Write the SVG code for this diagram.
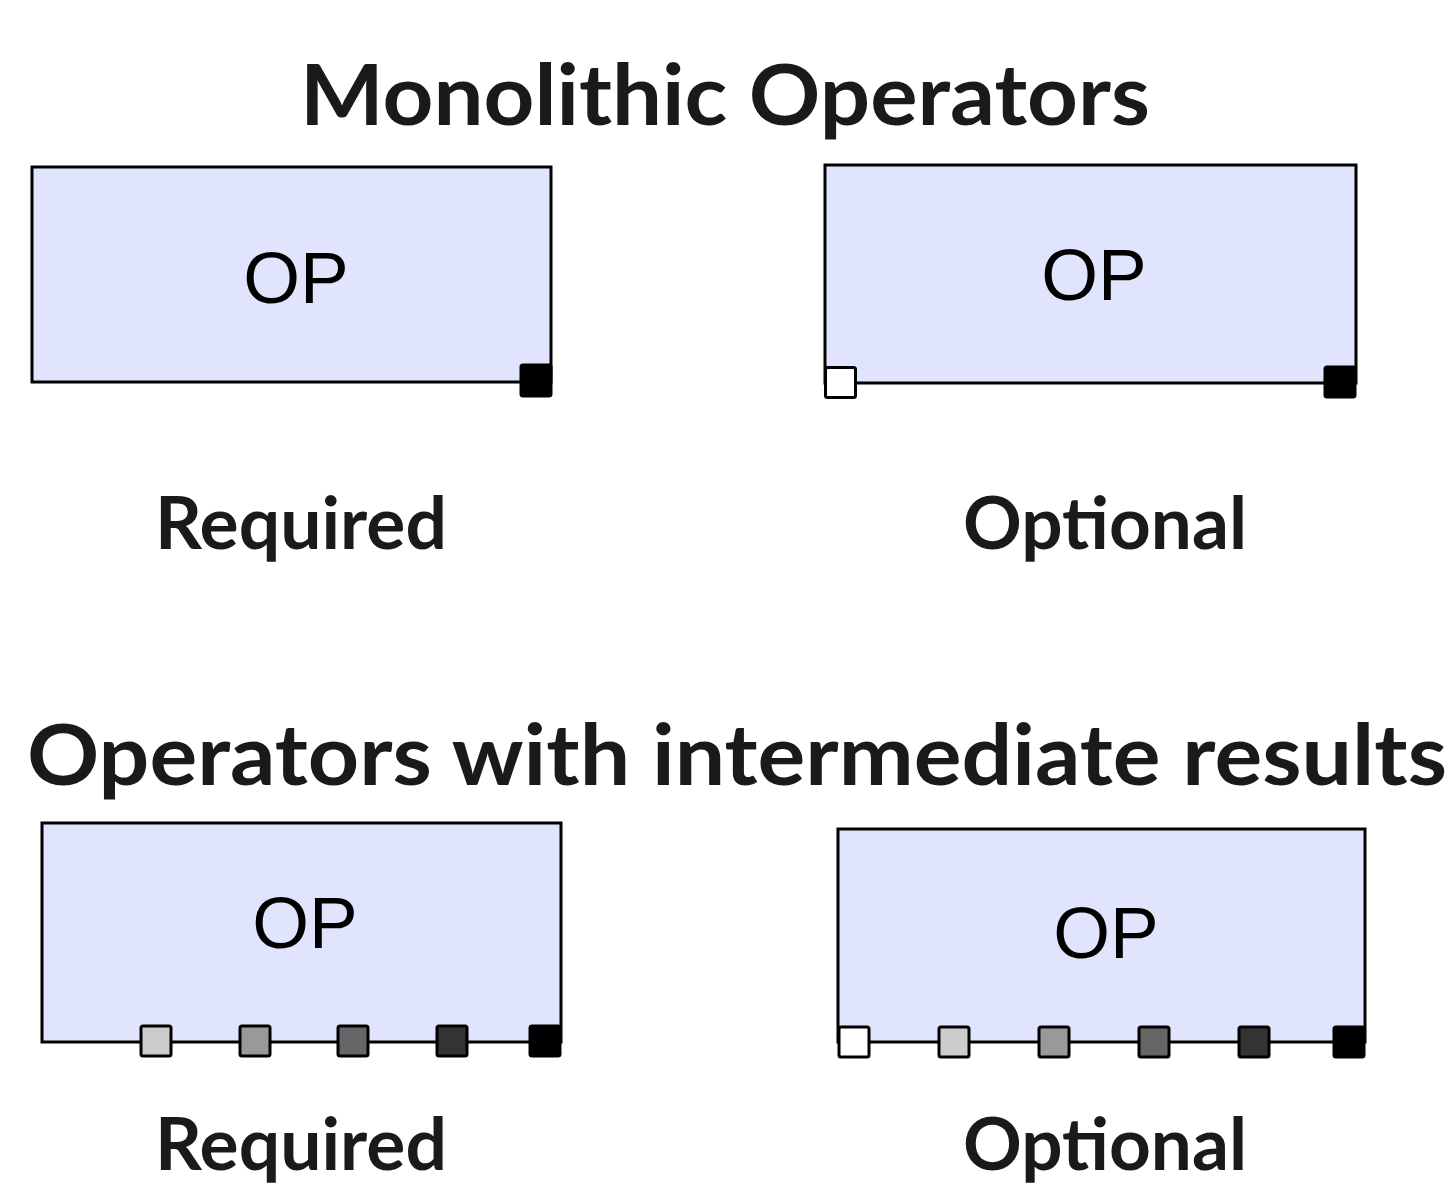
<svg xmlns="http://www.w3.org/2000/svg" width="1451" height="1185" viewBox="0 0 1451 1185">
<style>
.title{font-family:Lato,"Open Sans","Liberation Sans",sans-serif;font-weight:bold;fill:#1a1a1a}
.lbl{font-family:Lato,"Open Sans","Liberation Sans",sans-serif;font-weight:bold;fill:#1a1a1a;font-size:72px}
.op{font-family:"Liberation Sans",Arial,sans-serif;font-size:73px;fill:#000;text-anchor:middle}
.box{fill:#e0e4fc;stroke:#000;stroke-width:3}
.port{stroke:#000;stroke-width:3}
</style>
<rect width="1451" height="1185" fill="#fff"/>
<text class="title" x="300" y="125" font-size="84" textLength="850" lengthAdjust="spacingAndGlyphs">Monolithic Operators</text>
<text class="title" x="27" y="785" font-size="84" textLength="1420" lengthAdjust="spacingAndGlyphs">Operators with intermediate results</text>

<g id="op-monolithic-required">
<rect class="box" x="32" y="167" width="519" height="215"/>
<text class="op" x="296" y="303">OP</text>
<rect class="port" x="521" y="365" width="30" height="31" rx="2" fill="#000"/>
</g>
<g id="op-monolithic-optional">
<rect class="box" x="825" y="165" width="531" height="218"/>
<text class="op" x="1094" y="300">OP</text>
<rect class="port" x="825.5" y="367.5" width="30" height="30" rx="2" fill="#fff"/>
<rect class="port" x="1325" y="367" width="30" height="30" rx="2" fill="#000"/>
</g>
<text class="lbl" x="155" y="549" textLength="292" lengthAdjust="spacingAndGlyphs">Required</text>
<text class="lbl" x="963" y="549" textLength="284" lengthAdjust="spacingAndGlyphs">Optional</text>

<g id="op-intermediate-required">
<rect class="box" x="42" y="823" width="519" height="219"/>
<text class="op" x="305" y="948">OP</text>
<rect class="port" x="141" y="1026" width="30" height="30" rx="2" fill="#ccc"/>
<rect class="port" x="240" y="1026" width="30" height="30" rx="2" fill="#999"/>
<rect class="port" x="338" y="1026" width="30" height="30" rx="2" fill="#666"/>
<rect class="port" x="437" y="1026" width="30" height="30" rx="2" fill="#333"/>
<rect class="port" x="530" y="1026" width="30" height="30" rx="2" fill="#000"/>
</g>
<g id="op-intermediate-optional">
<rect class="box" x="838" y="829" width="527" height="213"/>
<text class="op" x="1106" y="958">OP</text>
<rect class="port" x="839" y="1027" width="30" height="30" rx="2" fill="#fff"/>
<rect class="port" x="939" y="1027" width="30" height="30" rx="2" fill="#ccc"/>
<rect class="port" x="1039" y="1027" width="30" height="30" rx="2" fill="#999"/>
<rect class="port" x="1139" y="1027" width="30" height="30" rx="2" fill="#666"/>
<rect class="port" x="1239" y="1027" width="30" height="30" rx="2" fill="#333"/>
<rect class="port" x="1334" y="1027" width="30" height="30" rx="2" fill="#000"/>
</g>
<text class="lbl" x="155" y="1170" textLength="292" lengthAdjust="spacingAndGlyphs">Required</text>
<text class="lbl" x="963" y="1170" textLength="284" lengthAdjust="spacingAndGlyphs">Optional</text>
<g id="connectors"/>
</svg>
